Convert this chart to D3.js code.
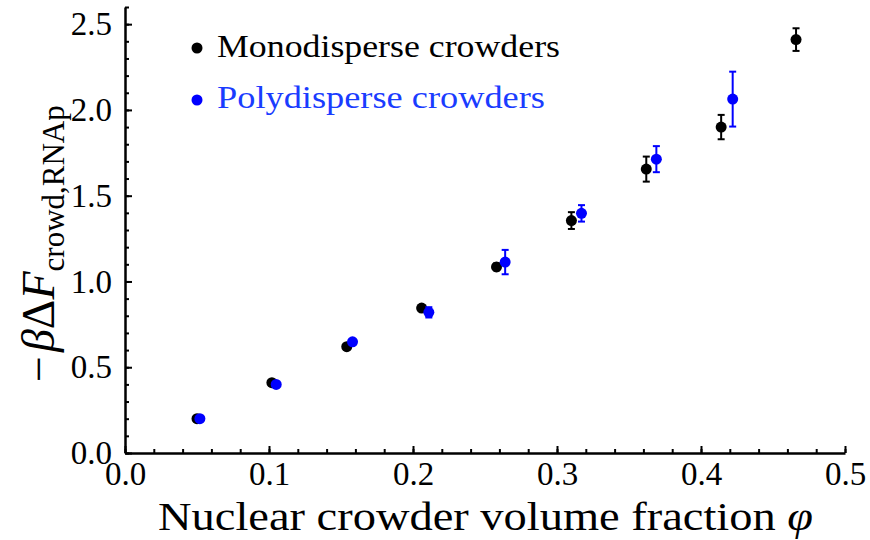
<!DOCTYPE html>
<html>
<head>
<meta charset="utf-8">
<script src="https://cdn.jsdelivr.net/npm/d3@7"></script>
<style>
  body { margin: 0; background: #fff; }
  svg text { font-family: 'Liberation Serif', 'Times New Roman', Times, 'Nimbus Roman', 'DejaVu Serif', serif; }
</style>
</head>
<body>
<script>
// Data
const phiMono = [0.050, 0.102, 0.154, 0.206, 0.258, 0.310, 0.362, 0.414, 0.466];
const valMono = [0.20, 0.41, 0.62, 0.845, 1.085, 1.355, 1.655, 1.90, 2.41];
const errMono = [0.01, 0.01, 0.01, 0.015, 0.02, 0.049, 0.073, 0.071, 0.066];

const phiPoly = [0.052, 0.105, 0.158, 0.211, 0.264, 0.317, 0.369, 0.422];
const valPoly = [0.20, 0.40, 0.648, 0.82, 1.113, 1.397, 1.713, 2.063];
const errPoly = [0.01, 0.01, 0.01, 0.03, 0.071, 0.048, 0.076, 0.16];

const xTicks = [0, 0.1, 0.2, 0.3, 0.4, 0.5];
const yTicks = [0, 0.5, 1.0, 1.5, 2.0, 2.5];

const seriesNames = ['Monodisperse crowders', 'Polydisperse crowders'];
const seriesColors = ['#000000', '#0000ff'];

const width = 870, height = 540;
const plot = { left: 125, right: 845, top: 7, bottom: 453 };

const x = d3.scaleLinear().domain([0, 0.5]).range([plot.left, plot.right]);
const y = d3.scaleLinear().domain([0, 2.6]).range([plot.bottom, plot.top]);

const svg = d3.select('body')
    .append('svg')
    .attr('width', width)
    .attr('height', height);

// Minor ticks
svg.append('g')
    .attr('transform', `translate(0, ${plot.bottom})`)
    .call(d3.axisBottom(x).tickValues(d3.range(0, 0.501, 0.02)).tickSizeInner(-4).tickSizeOuter(0).tickFormat(''))
    .call(g => g.select('.domain').remove())
    .call(g => g.selectAll('line').attr('stroke-width', 2));

svg.append('g')
    .attr('transform', `translate(${plot.left}, 0)`)
    .call(d3.axisLeft(y).tickValues(d3.range(0, 2.601, 0.1)).tickSizeInner(-4).tickSizeOuter(0).tickFormat(''))
    .call(g => g.select('.domain').remove())
    .call(g => g.selectAll('line').attr('stroke-width', 2));

// Major axes
svg.append('g')
    .attr('transform', `translate(0, ${plot.bottom})`)
    .call(d3.axisBottom(x).tickValues(xTicks).tickSizeInner(-7).tickSizeOuter(0).tickPadding(9).tickFormat(d3.format('.1f')))
    .call(g => g.select('.domain').attr('stroke-width', 2.5))
    .call(g => g.selectAll('line').attr('stroke-width', 2))
    .call(g => g.selectAll('text').attr('font-size', 33).attr('fill', '#000'));

svg.append('g')
    .attr('transform', `translate(${plot.left}, 0)`)
    .call(d3.axisLeft(y).tickValues(yTicks).tickSizeInner(-7).tickSizeOuter(0).tickPadding(13).tickFormat(d3.format('.1f')))
    .call(g => g.select('.domain').attr('stroke-width', 2.5))
    .call(g => g.selectAll('line').attr('stroke-width', 2))
    .call(g => g.selectAll('text').attr('font-size', 33).attr('fill', '#000'));

// Points with error bars
function drawSeries(phi, val, err, color) {
    const data = phi.map((p, i) => ({ p, v: val[i], e: err[i] }));
    const g = svg.append('g');
    g.selectAll('line.bar').data(data).enter().append('line')
        .attr('x1', d => x(d.p)).attr('x2', d => x(d.p))
        .attr('y1', d => y(d.v - d.e)).attr('y2', d => y(d.v + d.e))
        .attr('stroke', color).attr('stroke-width', 2);
    [1, -1].forEach(s => {
        g.selectAll(null).data(data).enter().append('line')
            .attr('x1', d => x(d.p) - 3.5).attr('x2', d => x(d.p) + 3.5)
            .attr('y1', d => y(d.v + s * d.e)).attr('y2', d => y(d.v + s * d.e))
            .attr('stroke', color).attr('stroke-width', 2);
    });
    g.selectAll('circle').data(data).enter().append('circle')
        .attr('cx', d => x(d.p)).attr('cy', d => y(d.v))
        .attr('r', 5.5).attr('fill', color);
}
drawSeries(phiMono, valMono, errMono, seriesColors[0]);
drawSeries(phiPoly, valPoly, errPoly, seriesColors[1]);

// Legend
const legend = svg.append('g');
seriesNames.forEach((name, i) => {
    legend.append('circle')
        .attr('cx', 197).attr('cy', 48 + i * 52).attr('r', 5.5)
        .attr('fill', seriesColors[i]);
    legend.append('text')
        .attr('x', 217).attr('y', 57 + i * 51)
        .attr('font-size', 31)
        .attr('fill', i === 1 ? '#1a3cff' : '#000')
        .attr('textLength', i === 0 ? 343 : 328)
        .attr('lengthAdjust', 'spacingAndGlyphs')
        .text(name);
});

// X label
svg.append('text')
    .attr('x', 158).attr('y', 530)
    .attr('font-size', 40)
    .attr('textLength', 655)
    .attr('lengthAdjust', 'spacingAndGlyphs')
    .html('Nuclear crowder volume fraction <tspan font-style="italic">φ</tspan>');

// Y label
const yl = svg.append('text')
    .attr('transform', 'translate(54, 382) rotate(-90)')
    .attr('font-size', 46);
yl.append('tspan').text('−');
yl.append('tspan').attr('dx', 4).attr('font-style', 'italic').text('β');
yl.append('tspan').text('Δ');
yl.append('tspan').attr('font-style', 'italic').text('F');
yl.append('tspan').attr('font-size', 31).attr('dy', 10).text('crowd,RNAp');
</script>
</body>
</html>
